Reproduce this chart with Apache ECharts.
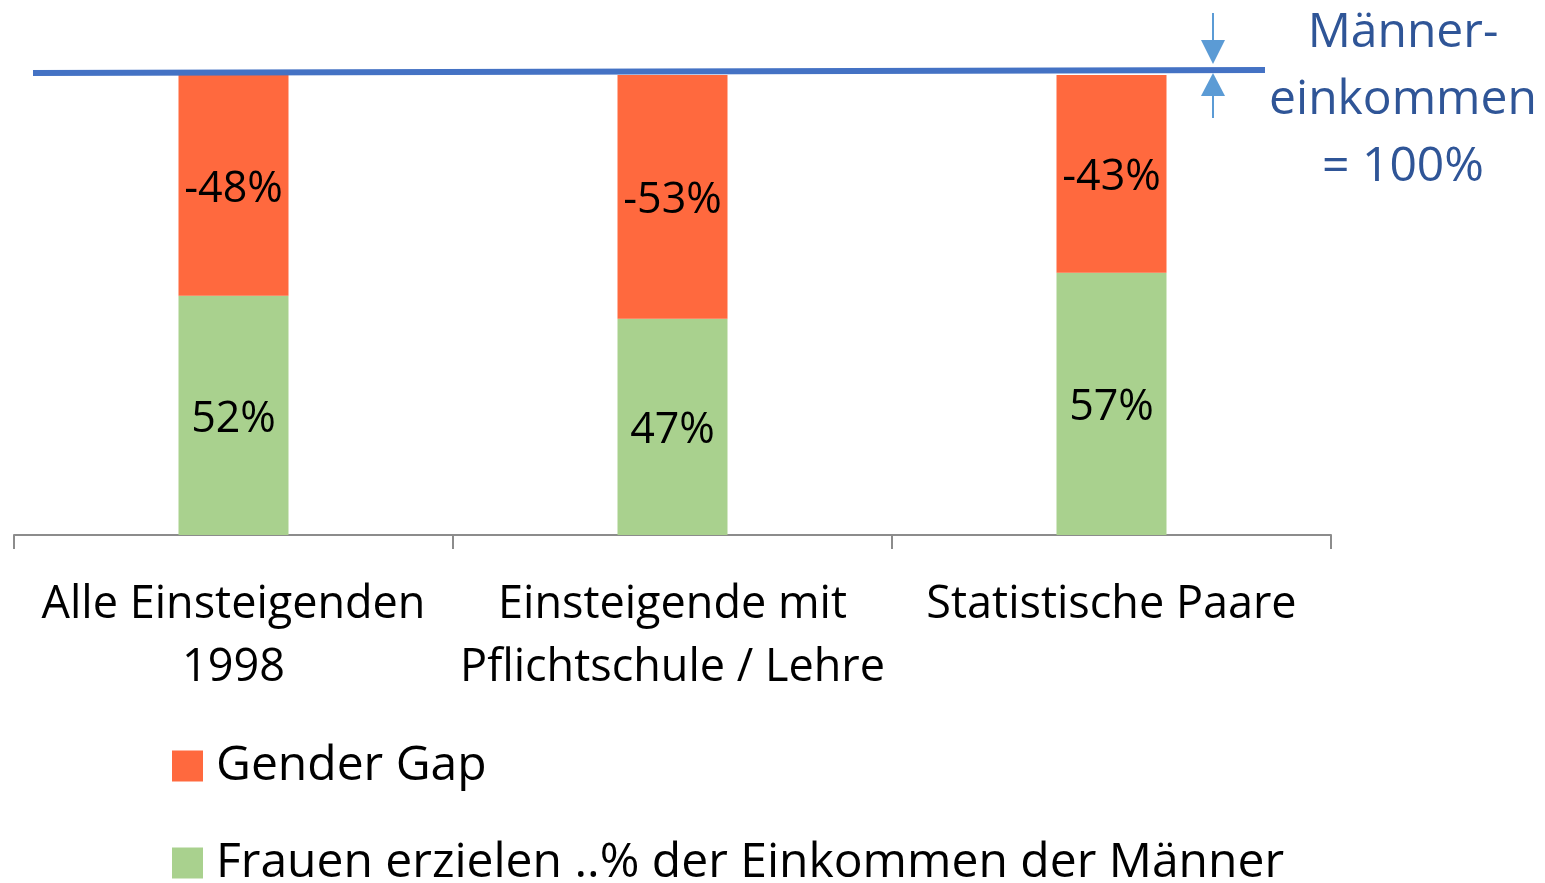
<!DOCTYPE html>
<html>
<head>
<meta charset="utf-8">
<script src="https://cdn.jsdelivr.net/npm/echarts@6/dist/echarts.min.js"></script>
<style>
html, body { margin: 0; padding: 0; background: #fff; }
#main { width: 1545px; height: 883px; }
</style>
</head>
<body>
<div id="main"></div>
<script>
var kategorien = ['Alle Einsteigenden\n1998', 'Einsteigende mit\nPflichtschule / Lehre', 'Statistische Paare'];
var frauenAnteil = [52, 47, 57];
var genderGap = [48, 53, 43];
var serienNamen = ['Gender Gap', 'Frauen erzielen ..% der Einkommen der Männer'];
var schrift = '"Open Sans", sans-serif';

var myChart = echarts.init(document.getElementById('main'));

function legende(name, top) {
    return {
        orient: 'vertical',
        left: 167,
        top: top,
        itemWidth: 31,
        itemHeight: 31,
        itemGap: 0,
        icon: 'rect',
        selectedMode: false,
        data: [name],
        textStyle: { fontSize: 48, color: '#000', fontFamily: schrift, padding: [0, 0, 0, 8] }
    };
}

var option = {
    animation: false,
    textStyle: { fontFamily: schrift },
    grid: { left: 14, right: 214, top: 75, bottom: 348 },
    legend: [legende(serienNamen[0], 737), legende(serienNamen[1], 834)],
    xAxis: {
        type: 'category',
        data: kategorien,
        axisLine: { show: true, lineStyle: { color: '#8c8c8c', width: 2 } },
        axisTick: { show: true, length: 14, interval: 0, lineStyle: { color: '#8c8c8c', width: 2 } },
        axisLabel: { interval: 0, fontSize: 45, lineHeight: 63, color: '#000', margin: 39, fontFamily: schrift }
    },
    yAxis: { type: 'value', min: 0, max: 100, show: false },
    series: [{
        name: serienNamen[1],
        type: 'bar',
        stack: 'gesamt',
        barWidth: 110,
        data: frauenAnteil,
        itemStyle: { color: '#a9d18e' },
        label: { show: true, position: 'inside', offset: [0, 4], formatter: '{c}%', fontSize: 43, color: '#000', fontFamily: schrift }
    }, {
        name: serienNamen[0],
        type: 'bar',
        stack: 'gesamt',
        barWidth: 110,
        data: genderGap,
        itemStyle: { color: '#ff693e' },
        label: { show: true, position: 'inside', offset: [0, 4], formatter: function (p) { return '-' + p.value + '%'; }, fontSize: 43, color: '#000', fontFamily: schrift }
    }],
    graphic: [
        { type: 'line', shape: { x1: 33, y1: 73, x2: 1265, y2: 70 }, style: { stroke: '#4472c4', lineWidth: 6 }, z: 10 },
        { type: 'line', shape: { x1: 1213, y1: 13, x2: 1213, y2: 45 }, style: { stroke: '#5b9bd5', lineWidth: 2 } },
        { type: 'polygon', shape: { points: [[1201, 40], [1225, 40], [1213, 64]] }, style: { fill: '#5b9bd5' } },
        { type: 'line', shape: { x1: 1213, y1: 90, x2: 1213, y2: 118 }, style: { stroke: '#5b9bd5', lineWidth: 2 } },
        { type: 'polygon', shape: { points: [[1213, 73], [1225, 96], [1201, 96]] }, style: { fill: '#5b9bd5' } },
        { type: 'text', x: 1403, y: 0, style: { text: 'Männer-\neinkommen\n= 100%', align: 'center', verticalAlign: 'top', fontSize: 48, lineHeight: 67, fill: '#2f5597', fontFamily: schrift } }
    ]
};
myChart.setOption(option);
</script>
</body>
</html>
